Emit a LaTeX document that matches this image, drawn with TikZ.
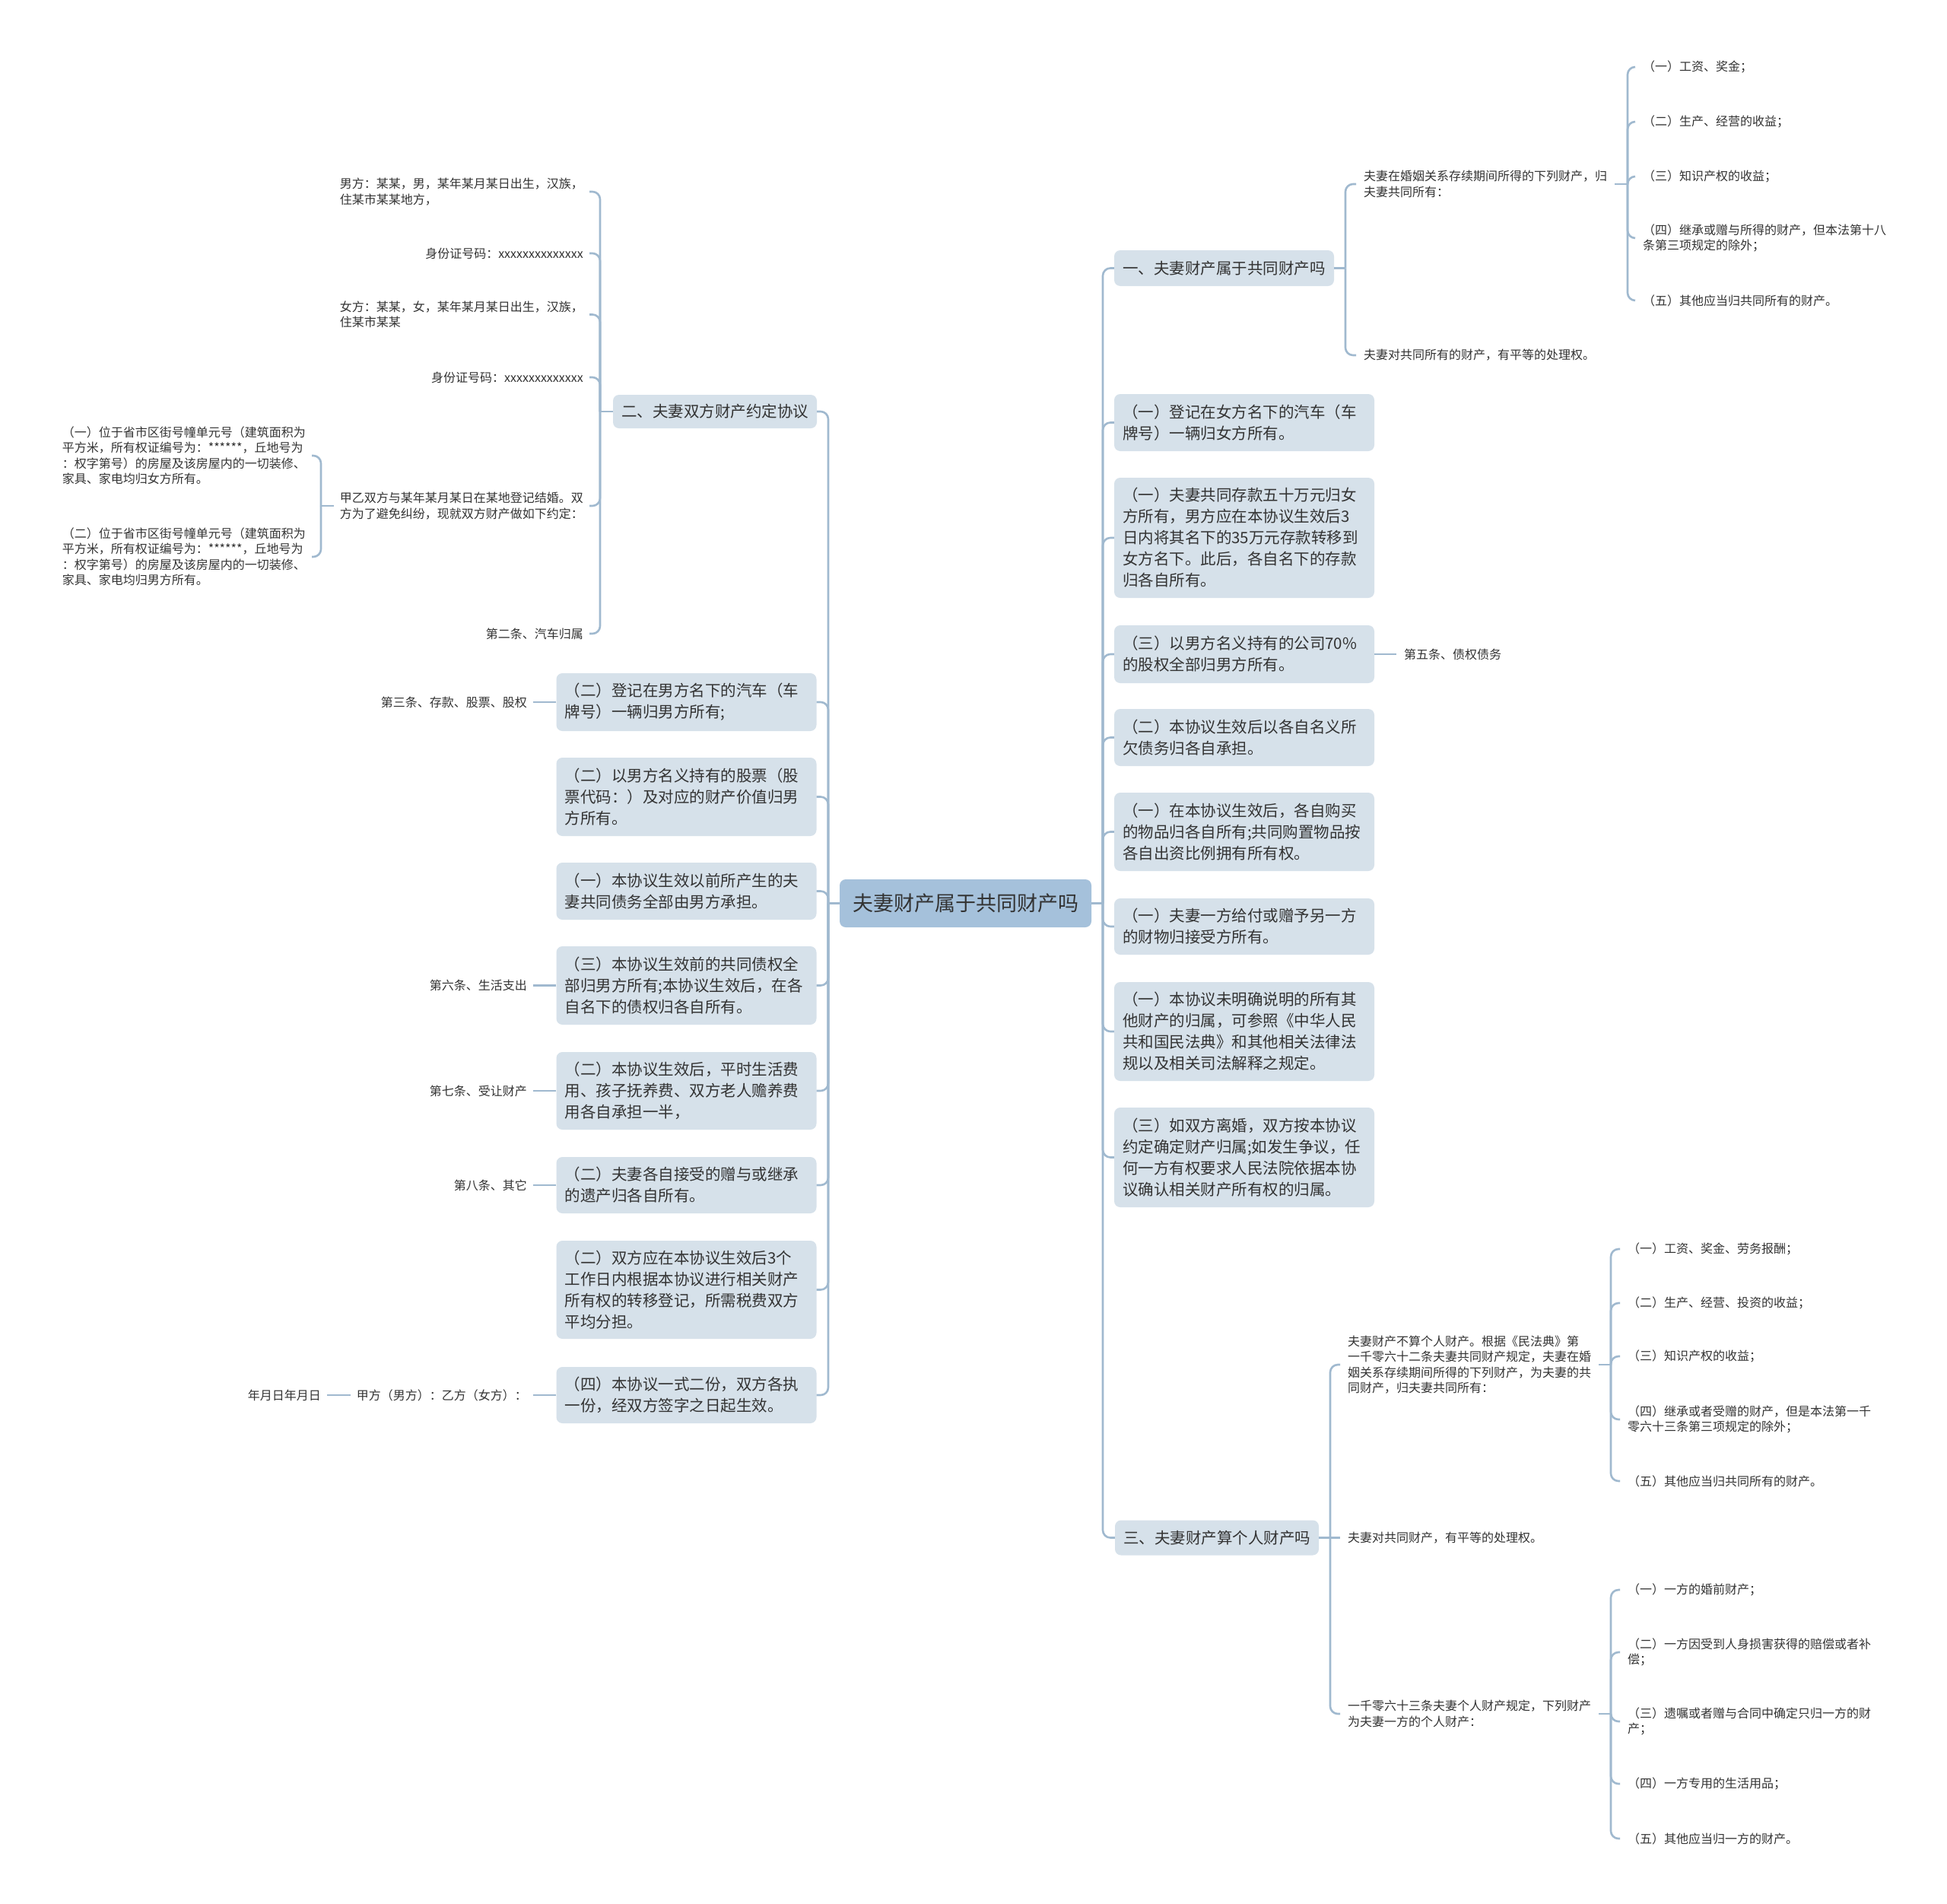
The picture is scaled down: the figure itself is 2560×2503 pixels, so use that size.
\documentclass[tikz,border=0pt]{standalone}
\usepackage{fontspec}
\setmainfont{Noto Sans CJK SC}
\definecolor{linec}{HTML}{A0B9CF}
\definecolor{boxc}{HTML}{D6E1EA}
\definecolor{rootc}{HTML}{A5C1DB}
\definecolor{txtc}{HTML}{333333}
\newcommand\BoxFont{\fontsize{20.5pt}{28pt}\selectfont}
\newcommand\LeafFont{\fontsize{16pt}{20.5pt}\selectfont}
\newcommand\RootFont{\fontsize{27pt}{32pt}\selectfont}
\newcommand\rlink[3]{\draw[conn] (#1.east) -- (#3 |- #1.east); \draw[conn] (#3 |- #1.east) -- (#3 |- #2.west) -- (#2.west);}
\newcommand\llink[3]{\draw[conn] (#1.west) -- (#3 |- #1.west); \draw[conn] (#3 |- #1.west) -- (#3 |- #2.east) -- (#2.east);}
\tikzset{
  conn/.style={draw=linec, line width=2.6pt, rounded corners=10pt},
  straight/.style={draw=linec, line width=2.6pt},
  boxn/.style={rectangle, rounded corners=8pt, fill=boxc, text=txtc, font=\BoxFont,
    text width=320pt, align=left, inner xsep=11pt, inner ysep=0pt},
  rootn/.style={rectangle, rounded corners=8pt, fill=rootc, text=txtc, font=\RootFont,
    minimum width=331pt, minimum height=63pt, inner sep=0pt},
  leafr/.style={anchor=west, font=\LeafFont, text=txtc, align=left, inner xsep=10pt, inner ysep=2pt},
  leafl/.style={anchor=east, font=\LeafFont, text=txtc, align=left, inner xsep=8pt, inner ysep=2pt},
  leaflr/.style={anchor=east, font=\LeafFont, text=txtc, align=right, inner xsep=8pt, inner ysep=2pt},
}
\begin{document}
\begin{tikzpicture}[x=1pt,y=-1pt]
\fill[white] (0,0) rectangle (2560,2503);
\useasboundingbox (0,0) rectangle (2560,2503);

% trunk coordinates
\coordinate (RT) at (1450,0);
\coordinate (LT) at (1089,0);
\coordinate (RA) at (1769,0);
\coordinate (RB) at (2140,0);
\coordinate (RC) at (1749,0);
\coordinate (RD) at (2118,0);
\coordinate (LA) at (789,0);
\coordinate (LB) at (422,0);

% root
\node[rootn] (root) at (1269.5,1187.5) {夫妻财产属于共同财产吗};

% right level-1 boxes
\node[boxn, text width=267pt, minimum height=47pt] (r1) at (1609.5,352.5) {一、夫妻财产属于共同财产吗};
\node[boxn, minimum height=75pt] (r2) at (1636,555.5) {（一）登记在女方名下的汽车（车\\牌号）一辆归女方所有。};
\node[boxn, minimum height=158pt] (r3) at (1636,707) {（一）夫妻共同存款五十万元归女\\方所有，男方应在本协议生效后3\\日内将其名下的35万元存款转移到\\女方名下。此后，各自名下的存款\\归各自所有。};
\node[boxn, minimum height=76pt] (r4) at (1636,860) {（三）以男方名义持有的公司70\%\\的股权全部归男方所有。};
\node[boxn, minimum height=75pt] (r5) at (1636,969.5) {（二）本协议生效后以各自名义所\\欠债务归各自承担。};
\node[boxn, minimum height=103pt] (r6) at (1636,1093.5) {（一）在本协议生效后，各自购买\\的物品归各自所有;共同购置物品按\\各自出资比例拥有所有权。};
\node[boxn, minimum height=74pt] (r7) at (1636,1218) {（一）夫妻一方给付或赠予另一方\\的财物归接受方所有。};
\node[boxn, minimum height=130pt] (r8) at (1636,1356) {（一）本协议未明确说明的所有其\\他财产的归属，可参照《中华人民\\共和国民法典》和其他相关法律法\\规以及相关司法解释之规定。};
\node[boxn, minimum height=131pt] (r9) at (1636,1521.5) {（三）如双方离婚，双方按本协议\\约定确定财产归属;如发生争议，任\\何一方有权要求人民法院依据本协\\议确认相关财产所有权的归属。};
\node[boxn, text width=246pt, minimum height=46pt] (r10) at (1600,2021.5) {三、夫妻财产算个人财产吗};

\node[leafr] (r4a) at (1836,860) {第五条、债权债务};

% r1 children
\node[leafr] (r1a) at (1783,242) {夫妻在婚姻关系存续期间所得的下列财产，归\\夫妻共同所有：};
\node[leafr] (r1b) at (1783,467) {夫妻对共同所有的财产，有平等的处理权。};
\node[leafr] (r1a1) at (2150,88) {（一）工资、奖金；};
\node[leafr] (r1a2) at (2150,160) {（二）生产、经营的收益；};
\node[leafr] (r1a3) at (2150,232) {（三）知识产权的收益；};
\node[leafr] (r1a4) at (2150,313) {（四）继承或赠与所得的财产，但本法第十八\\条第三项规定的除外；};
\node[leafr] (r1a5) at (2150,395) {（五）其他应当归共同所有的财产。};

% r10 children
\node[leafr] (r10a) at (1762,1794) {夫妻财产不算个人财产。根据《民法典》第\\一千零六十二条夫妻共同财产规定，夫妻在婚\\姻关系存续期间所得的下列财产，为夫妻的共\\同财产，归夫妻共同所有：};
\node[leafr] (r10b) at (1762,2021.5) {夫妻对共同财产，有平等的处理权。};
\node[leafr] (r10c) at (1762,2253) {一千零六十三条夫妻个人财产规定，下列财产\\为夫妻一方的个人财产：};
\node[leafr] (r10a1) at (2130,1642) {（一）工资、奖金、劳务报酬；};
\node[leafr] (r10a2) at (2130,1713) {（二）生产、经营、投资的收益；};
\node[leafr] (r10a3) at (2130,1783) {（三）知识产权的收益；};
\node[leafr] (r10a4) at (2130,1866) {（四）继承或者受赠的财产，但是本法第一千\\零六十三条第三项规定的除外；};
\node[leafr] (r10a5) at (2130,1947) {（五）其他应当归共同所有的财产。};
\node[leafr] (r10c1) at (2130,2090) {（一）一方的婚前财产；};
\node[leafr] (r10c2) at (2130,2172) {（二）一方因受到人身损害获得的赔偿或者补\\偿；};
\node[leafr] (r10c3) at (2130,2263) {（三）遗嘱或者赠与合同中确定只归一方的财\\产；};
\node[leafr] (r10c4) at (2130,2345) {（四）一方专用的生活用品；};
\node[leafr] (r10c5) at (2130,2417) {（五）其他应当归一方的财产。};

% left level-1 boxes
\node[boxn, text width=246pt, minimum height=44pt] (l1) at (940,541) {二、夫妻双方财产约定协议};
\node[boxn, minimum height=76pt] (l2) at (902.5,923) {（二）登记在男方名下的汽车（车\\牌号）一辆归男方所有;};
\node[boxn, minimum height=103pt] (l3) at (902.5,1047.5) {（二）以男方名义持有的股票（股\\票代码：）及对应的财产价值归男\\方所有。};
\node[boxn, minimum height=75pt] (l4) at (902.5,1171.5) {（一）本协议生效以前所产生的夫\\妻共同债务全部由男方承担。};
\node[boxn, minimum height=103pt] (l5) at (902.5,1295.5) {（三）本协议生效前的共同债权全\\部归男方所有;本协议生效后，在各\\自名下的债权归各自所有。};
\node[boxn, minimum height=102pt] (l6) at (902.5,1434) {（二）本协议生效后，平时生活费\\用、孩子抚养费、双方老人赡养费\\用各自承担一半，};
\node[boxn, minimum height=74pt] (l7) at (902.5,1558) {（二）夫妻各自接受的赠与或继承\\的遗产归各自所有。};
\node[boxn, minimum height=129pt] (l8) at (902.5,1695.5) {（二）双方应在本协议生效后3个\\工作日内根据本协议进行相关财产\\所有权的转移登记，所需税费双方\\平均分担。};
\node[boxn, minimum height=74pt] (l9) at (902.5,1834) {（四）本协议一式二份，双方各执\\一份，经双方签字之日起生效。};

\node[leaflr] (l2a) at (701,923) {第三条、存款、股票、股权};
\node[leaflr] (l5a) at (701,1295.5) {第六条、生活支出};
\node[leaflr] (l6a) at (701,1434) {第七条、受让财产};
\node[leaflr] (l7a) at (701,1558) {第八条、其它};
\node[leaflr] (l9a) at (701,1834) {甲方（男方）：乙方（女方）：};
\node[leaflr] (l9b) at (430,1834) {年月日年月日};

% l1 children
\node[leafl] (l1a) at (775,252) {男方：某某，男，某年某月某日出生，汉族，\\住某市某某地方，};
\node[leaflr] (l1b) at (775,333) {身份证号码：xxxxxxxxxxxxxx};
\node[leafl] (l1c) at (775,413.5) {女方：某某，女，某年某月某日出生，汉族，\\住某市某某};
\node[leaflr] (l1d) at (775,496) {身份证号码：xxxxxxxxxxxxx};
\node[leafl] (l1e) at (775,665) {甲乙双方与某年某月某日在某地登记结婚。双\\方为了避免纠纷，现就双方财产做如下约定：};
\node[leaflr] (l1f) at (775,833) {第二条、汽车归属};
\node[leafl] (l1e1) at (410,599) {（一）位于省市区街号幢单元号（建筑面积为\\平方米，所有权证编号为：******，丘地号为\\：权字第号）的房屋及该房屋内的一切装修、\\家具、家电均归女方所有。};
\node[leafl] (l1e2) at (410,732) {（二）位于省市区街号幢单元号（建筑面积为\\平方米，所有权证编号为：******，丘地号为\\：权字第号）的房屋及该房屋内的一切装修、\\家具、家电均归男方所有。};

% ---- connectors ----
\foreach \c in {r1,r2,r3,r4,r5,r6,r7,r8,r9,r10} {\rlink{root}{\c}{RT}}
\foreach \c in {l1,l2,l3,l4,l5,l6,l7,l8,l9} {\llink{root}{\c}{LT}}
\draw[straight] (r4.east) -- (r4a.west);
\foreach \c in {r1a,r1b} {\rlink{r1}{\c}{RA}}
\foreach \c in {r1a1,r1a2,r1a3,r1a4,r1a5} {\rlink{r1a}{\c}{RB}}
\foreach \c in {r10a,r10c} {\rlink{r10}{\c}{RC}}
\draw[straight] (r10.east) -- (r10b.west);
\foreach \c in {r10a1,r10a2,r10a3,r10a4,r10a5} {\rlink{r10a}{\c}{RD}}
\foreach \c in {r10c1,r10c2,r10c3,r10c4,r10c5} {\rlink{r10c}{\c}{RD}}
\foreach \c in {l1a,l1b,l1c,l1d,l1e,l1f} {\llink{l1}{\c}{LA}}
\foreach \c in {l1e1,l1e2} {\llink{l1e}{\c}{LB}}
\draw[straight] (l2.west) -- (l2a.east);
\draw[straight] (l5.west) -- (l5a.east);
\draw[straight] (l6.west) -- (l6a.east);
\draw[straight] (l7.west) -- (l7a.east);
\draw[straight] (l9.west) -- (l9a.east);
\draw[straight] (l9a.west) -- (l9b.east);
\end{tikzpicture}
\end{document}
